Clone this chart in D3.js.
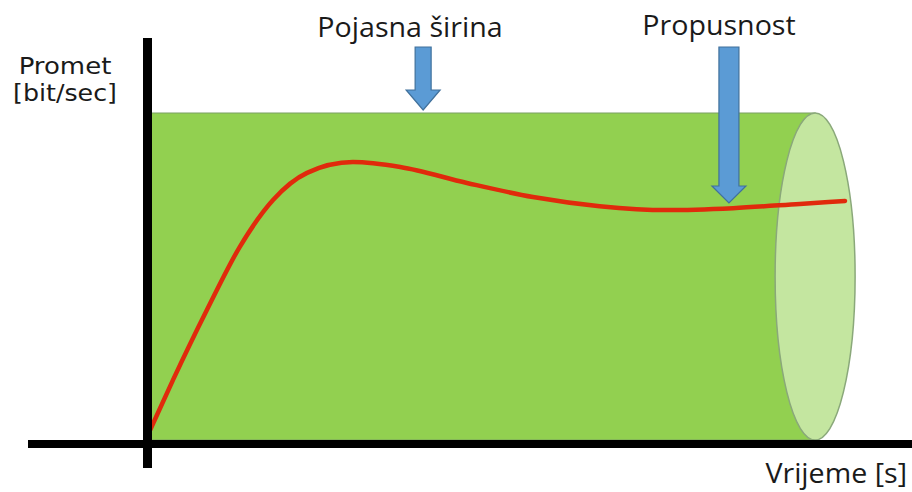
<!DOCTYPE html>
<html>
<head>
<meta charset="utf-8">
<script src="https://cdn.jsdelivr.net/npm/d3@7"></script>
<style>
  body { margin: 0; background: #fff; }
  text { font-family: "Open Sans", Lato, sans-serif; fill: #1a1a1a; }
</style>
</head>
<body>
<svg width="912" height="492"></svg>
<script>
// throughput curve (time in %, traffic in % of bandwidth)
const time = [0, 3.3, 8.2, 12.9, 17.7, 22.6, 29.2, 36.0, 45.6, 55.1, 64.7, 74.4, 83.9, 93.5, 100]
const traffic = [3, 18.3, 39.8, 59.0, 73.4, 81.7, 85.0, 83.5, 78.6, 74.3, 71.5, 70.3, 70.9, 72.2, 73.1]
const bandwidth = 100
const pipeEnd = 95.7
const arrowAt = [39.3, 83.3]
const labels = ['Pojasna širina', 'Propusnost']

const svg = d3.select('svg')
const width = +svg.attr('width')
const height = +svg.attr('height')

const x = d3.scaleLinear().domain([0, 100]).range([150, 845])
const y = d3.scaleLinear().domain([0, 100]).range([440, 113])

// pipe body
svg.append('rect')
    .attr('x', x(0))
    .attr('y', y(bandwidth))
    .attr('width', x(pipeEnd) - x(0))
    .attr('height', y(0) - y(bandwidth))
    .attr('fill', '#92d050')
    .attr('stroke', '#7a9f62')
    .attr('stroke-width', 1)

// pipe end
svg.append('ellipse')
    .attr('cx', x(pipeEnd))
    .attr('cy', (y(0) + y(bandwidth)) / 2)
    .attr('rx', 40)
    .attr('ry', (y(0) - y(bandwidth)) / 2)
    .attr('fill', '#c4e6a0')
    .attr('stroke', '#8aa87a')
    .attr('stroke-width', 1.5)

// traffic line
const line = d3.line()
    .x((d, i) => x(time[i]))
    .y(d => y(d))
    .curve(d3.curveMonotoneX)
svg.append('path')
    .attr('d', line(traffic))
    .attr('fill', 'none')
    .attr('stroke', '#e02a0c')
    .attr('stroke-width', 4.5)
    .attr('stroke-linecap', 'round')

// axes
svg.append('rect')
    .attr('x', 28).attr('y', 440)
    .attr('width', width - 28).attr('height', 8)
    .attr('fill', '#000')
svg.append('rect')
    .attr('x', 143).attr('y', 38)
    .attr('width', 9).attr('height', 430)
    .attr('fill', '#000')

// arrows
const arrowTops = [47, 47]
const arrowTips = [110, 203]
const shaftW = [8, 10]
const headW = [17, 17]
const headH = [20, 17]
arrowAt.forEach((a, i) => {
    const cx = x(a)
    const top = arrowTops[i]
    const tip = arrowTips[i]
    const sw = shaftW[i], hw = headW[i], hh = headH[i]
    const pts = [
        [cx - sw, top], [cx + sw, top], [cx + sw, tip - hh], [cx + hw, tip - hh],
        [cx, tip], [cx - hw, tip - hh], [cx - sw, tip - hh]
    ]
    svg.append('path')
        .attr('d', d3.line()(pts) + 'Z')
        .attr('fill', '#5b9bd5')
        .attr('stroke', '#41719c')
        .attr('stroke-width', 1.2)
})

// labels (slightly widened like the original)
function label(txt, tx, ty, size, anchor, sx) {
    return svg.append('text')
        .attr('transform', `translate(${tx}, ${ty}) scale(${sx || 1.06}, 1)`)
        .attr('text-anchor', anchor)
        .attr('font-size', size)
        .text(txt)
}
label(labels[0], 410, 37, 27, 'middle')
label(labels[1], 719, 35, 27, 'middle')
label('Vrijeme [s]', 907, 483, 27, 'end')

// y title: tighter font metrics so the two lines sit close like the original
label('Promet', 65, 74, 23, 'middle', 1.13).style('font-family', '"DejaVu Sans", sans-serif')
label('[bit/sec]', 65, 101, 23, 'middle', 1.1).style('font-family', '"DejaVu Sans", sans-serif')
</script>
</body>
</html>
